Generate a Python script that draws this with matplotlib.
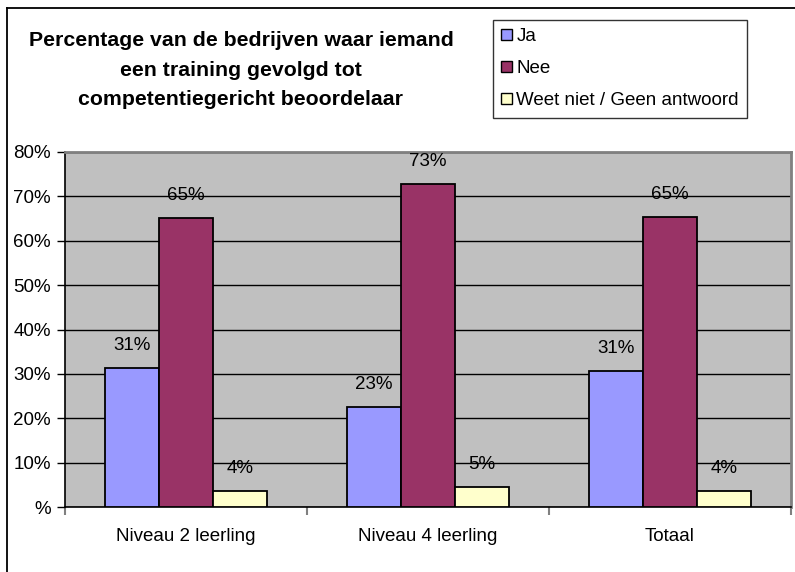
"""
Excel-style grouped bar chart: training competentiegericht beoordelaar
"""

import matplotlib
matplotlib.use("Agg")
import matplotlib.pyplot as plt
from matplotlib.lines import Line2D
from matplotlib.patches import Patch
import numpy as np

categories = ["Niveau 2 leerling", "Niveau 4 leerling", "Totaal"]
series_names = ["Ja", "Nee", "Weet niet / Geen antwoord"]
ja = [31.4, 22.6, 30.7]
nee = [65.2, 72.8, 65.4]
weet_niet = [3.5, 4.5, 3.5]
ja_labels = ["31%", "23%", "31%"]
nee_labels = ["65%", "73%", "65%"]
weet_niet_labels = ["4%", "5%", "4%"]
y_ticks = [0, 10, 20, 30, 40, 50, 60, 70, 80]
y_tick_labels = ["%", "10%", "20%", "30%", "40%", "50%", "60%", "70%", "80%"]

colors = ["#9999FF", "#993366", "#FFFFCC"]
title = ("Percentage van de bedrijven waar iemand\n"
         "een training gevolgd tot\n"
         "competentiegericht beoordelaar")

plt.rcParams["font.family"] = ["Liberation Sans", "DejaVu Sans"]

W, H = 795, 572
fig = plt.figure(figsize=(W / 100, H / 100), dpi=100)
ax = fig.add_axes([65 / W, 1 - 507 / H, (791 - 65) / W, (507 - 152) / H])
ax.set_facecolor("#C0C0C0")

x = np.arange(len(categories))
width = 1 / 4.5
values = [ja, nee, weet_niet]
labels = [ja_labels, nee_labels, weet_niet_labels]
for i, (vals, col, lab) in enumerate(zip(values, colors, labels)):
    bars = ax.bar(x + (i - 1) * width, vals, width, color=col,
                  edgecolor="black", linewidth=1.3, zorder=3)
    for b, txt in zip(bars, lab):
        ax.annotate(txt, (b.get_x() + b.get_width() / 2, b.get_height()),
                    xytext=(0, 13), textcoords="offset points",
                    ha="center", va="baseline", fontsize=13.5, zorder=4)

ax.set_xlim(-0.5, 2.5)
ax.set_ylim(0, 80)
ax.set_yticks(y_ticks)
ax.set_yticklabels(y_tick_labels, fontsize=13.5)
ax.yaxis.grid(True, color="black", linewidth=1, zorder=1)
ax.tick_params(axis="y", direction="out", length=6, width=1, color="black", pad=4)

ax.set_xticks([-0.5, 0.5, 1.5, 2.5])
ax.set_xticklabels([])
ax.set_xticks(x, minor=True)
ax.set_xticklabels(categories, minor=True, fontsize=13.5)
ax.tick_params(axis="x", which="major", direction="out", length=6, width=1.5, color="#808080")
ax.tick_params(axis="x", which="minor", length=0, pad=15)

ax.spines["left"].set_color("black")
ax.spines["left"].set_linewidth(1.2)
ax.spines["bottom"].set_color("black")
ax.spines["bottom"].set_linewidth(1.2)
ax.spines["top"].set_color("#808080")
ax.spines["top"].set_linewidth(2)
ax.spines["right"].set_color("#808080")
ax.spines["right"].set_linewidth(2)

# title
fig.text(241 / W, 1 - 70 / H, title, ha="center", va="center",
         fontsize=15.3, fontweight="bold", linespacing=1.72)

# legend
handles = [Patch(facecolor=c, edgecolor="black", linewidth=1) for c in colors]
leg = fig.legend(handles, series_names, loc="upper left",
                 bbox_to_anchor=(493 / W, 1 - 20 / H), fontsize=13.5,
                 frameon=True, fancybox=False, edgecolor="black",
                 handlelength=0.55, handleheight=0.55, handletextpad=0.25,
                 labelspacing=0.8, borderpad=0.45, borderaxespad=0)
leg.get_frame().set_linewidth(1)

# outer chart border
fig.add_artist(Line2D([7 / W, 7 / W], [0, 1 - 8 / H], color="black", linewidth=1.3))
fig.add_artist(Line2D([7 / W, 1], [1 - 8 / H, 1 - 8 / H], color="black", linewidth=1.3))

fig.savefig("out.png", dpi=100)
